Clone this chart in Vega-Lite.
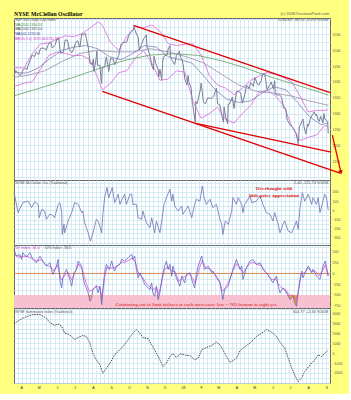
{
"$schema": "https://vega.github.io/schema/vega-lite/v6.json",
"background": "#ffff80",
"padding": {"left": 11, "top": 10, "right": 5, "bottom": 5},
"spacing": 0,
"bounds": "flush",
"config": {
  "view": {"stroke": "#666", "strokeWidth": 1, "fill": "#ffffff"},
  "axis": {"domain": false, "ticks": false, "gridColor": "#cbe6f0", "gridWidth": 0.8, "labelFont": "Liberation Sans", "labelFontSize": 3.5, "labelColor": "#555", "labelPadding": 2, "title": null},
  "text": {"font": "Liberation Sans", "fontSize": 3.5, "baseline": "middle"}
},
"datasets": {
  "price": [
{"d":78,"p":1420},{"d":81,"p":1437},{"d":85,"p":1428},{"d":88,"p":1421},{"d":91,"p":1424},{"d":93,"p":1437},{"d":98,"p":1444},{"d":100,"p":1439},{"d":102,"p":1452},{"d":106,"p":1471},{"d":109,"p":1485},{"d":113,"p":1480},{"d":116,"p":1495},{"d":120,"p":1486},{"d":123,"p":1506},{"d":127,"p":1507},{"d":130,"p":1505},{"d":133,"p":1501},{"d":137,"p":1522},{"d":141,"p":1524},{"d":143,"p":1507},{"d":148,"p":1518},{"d":151,"p":1536},{"d":154,"p":1539},{"d":157,"p":1491},{"d":162,"p":1494},{"d":165,"p":1533},{"d":169,"p":1531},{"d":172,"p":1503},{"d":176,"p":1492},{"d":179,"p":1503},{"d":183,"p":1525},{"d":186,"p":1530},{"d":190,"p":1510},{"d":193,"p":1552},{"d":196,"p":1549},{"d":199,"p":1554},{"d":204,"p":1511},{"d":206,"p":1483},{"d":207,"p":1459},{"d":211,"p":1455},{"d":213,"p":1472},{"d":214,"p":1433},{"d":217,"p":1467},{"d":219,"p":1497},{"d":220,"p":1453},{"d":224,"p":1452},{"d":226,"p":1406},{"d":227,"p":1395},{"d":228,"p":1445},{"d":232,"p":1447},{"d":235,"p":1479},{"d":239,"p":1433},{"d":242,"p":1474},{"d":247,"p":1472},{"d":249,"p":1454},{"d":253,"p":1471},{"d":256,"p":1484},{"d":260,"p":1519},{"d":263,"p":1525},{"d":268,"p":1525},{"d":270,"p":1527},{"d":273,"p":1547},{"d":277,"p":1557},{"d":281,"p":1565},{"d":282,"p":1575},{"d":284,"p":1561},{"d":287,"p":1548},{"d":289,"p":1541},{"d":291,"p":1501},{"d":295,"p":1519},{"d":298,"p":1536},{"d":303,"p":1549},{"d":304,"p":1508},{"d":305,"p":1509},{"d":310,"p":1475},{"d":312,"p":1453},{"d":315,"p":1439},{"d":316,"p":1481},{"d":319,"p":1458},{"d":323,"p":1439},{"d":324,"p":1416},{"d":326,"p":1440},{"d":329,"p":1407},{"d":331,"p":1469},{"d":333,"p":1481},{"d":338,"p":1486},{"d":340,"p":1504},{"d":343,"p":1515},{"d":344,"p":1478},{"d":347,"p":1467},{"d":351,"p":1455},{"d":354,"p":1484},{"d":359,"p":1497},{"d":361,"p":1478},{"d":364,"p":1468},{"d":366,"p":1447},{"d":368,"p":1411},{"d":372,"p":1390},{"d":374,"p":1420},{"d":375,"p":1401},{"d":379,"p":1381},{"d":381,"p":1333},{"d":382,"p":1325},{"d":386,"p":1272},{"d":387,"p":1338},{"d":389,"p":1331},{"d":392,"p":1353},{"d":395,"p":1379},{"d":396,"p":1396},{"d":400,"p":1337},{"d":403,"p":1331},{"d":407,"p":1349},{"d":410,"p":1349},{"d":414,"p":1348},{"d":417,"p":1353},{"d":422,"p":1380},{"d":424,"p":1331},{"d":428,"p":1327},{"d":431,"p":1294},{"d":434,"p":1273},{"d":435,"p":1320},{"d":438,"p":1288},{"d":441,"p":1268},{"d":442,"p":1330},{"d":444,"p":1330},{"d":449,"p":1352},{"d":452,"p":1316},{"d":456,"p":1370},{"d":459,"p":1370},{"d":463,"p":1366},{"d":466,"p":1333},{"d":471,"p":1365},{"d":473,"p":1390},{"d":478,"p":1379},{"d":480,"p":1398},{"d":485,"p":1386},{"d":487,"p":1414},{"d":492,"p":1393},{"d":494,"p":1389},{"d":498,"p":1404},{"d":501,"p":1426},{"d":504,"p":1426},{"d":507,"p":1391},{"d":508,"p":1376},{"d":513,"p":1391},{"d":515,"p":1400},{"d":519,"p":1377},{"d":521,"p":1404},{"d":522,"p":1361},{"d":526,"p":1358},{"d":529,"p":1360},{"d":533,"p":1350},{"d":536,"p":1318},{"d":540,"p":1315},{"d":542,"p":1283},{"d":543,"p":1278},{"d":548,"p":1261},{"d":549,"p":1262},{"d":553,"p":1253},{"d":555,"p":1245},{"d":557,"p":1240},{"d":561,"p":1205},{"d":563,"p":1260},{"d":564,"p":1261},{"d":569,"p":1283},{"d":571,"p":1257},{"d":574,"p":1235},{"d":577,"p":1267},{"d":578,"p":1260},{"d":582,"p":1285},{"d":585,"p":1296},{"d":588,"p":1305},{"d":591,"p":1293},{"d":592,"p":1298},{"d":595,"p":1279},{"d":597,"p":1275},{"d":599,"p":1292},{"d":603,"p":1271},{"d":605,"p":1300},{"d":606,"p":1283},{"d":610,"p":1277},{"d":611,"p":1275},{"d":612,"p":1237}
  ],
  "ma": [
{"s":"MA200","d":78,"v":1356},{"s":"MA200","d":130,"v":1385},{"s":"MA200","d":180,"v":1415},{"s":"MA200","d":230,"v":1447},{"s":"MA200","d":270,"v":1470},{"s":"MA200","d":310,"v":1485},{"s":"MA200","d":350,"v":1489},{"s":"MA200","d":390,"v":1484},{"s":"MA200","d":430,"v":1467},{"s":"MA200","d":470,"v":1445},{"s":"MA200","d":510,"v":1418},{"s":"MA200","d":550,"v":1395},{"s":"MA200","d":590,"v":1372},{"s":"MA200","d":612,"v":1358},
{"s":"MA100","d":78,"v":1415},{"s":"MA100","d":100,"v":1420},{"s":"MA100","d":130,"v":1435},{"s":"MA100","d":160,"v":1465},{"s":"MA100","d":190,"v":1490},{"s":"MA100","d":220,"v":1500},{"s":"MA100","d":250,"v":1495},{"s":"MA100","d":280,"v":1495},{"s":"MA100","d":310,"v":1505},{"s":"MA100","d":340,"v":1495},{"s":"MA100","d":370,"v":1480},{"s":"MA100","d":400,"v":1460},{"s":"MA100","d":430,"v":1425},{"s":"MA100","d":460,"v":1390},{"s":"MA100","d":490,"v":1370},{"s":"MA100","d":520,"v":1365},{"s":"MA100","d":550,"v":1355},{"s":"MA100","d":580,"v":1340},{"s":"MA100","d":612,"v":1326},
{"s":"MA50","d":78,"v":1430},{"s":"MA50","d":100,"v":1428},{"s":"MA50","d":120,"v":1445},{"s":"MA50","d":140,"v":1475},{"s":"MA50","d":160,"v":1500},{"s":"MA50","d":180,"v":1510},{"s":"MA50","d":200,"v":1515},{"s":"MA50","d":220,"v":1505},{"s":"MA50","d":240,"v":1480},{"s":"MA50","d":260,"v":1470},{"s":"MA50","d":280,"v":1490},{"s":"MA50","d":300,"v":1515},{"s":"MA50","d":320,"v":1510},{"s":"MA50","d":340,"v":1480},{"s":"MA50","d":360,"v":1470},{"s":"MA50","d":380,"v":1460},{"s":"MA50","d":400,"v":1420},{"s":"MA50","d":420,"v":1375},{"s":"MA50","d":440,"v":1345},{"s":"MA50","d":460,"v":1335},{"s":"MA50","d":480,"v":1340},{"s":"MA50","d":500,"v":1365},{"s":"MA50","d":520,"v":1385},{"s":"MA50","d":540,"v":1375},{"s":"MA50","d":560,"v":1335},{"s":"MA50","d":580,"v":1290},{"s":"MA50","d":600,"v":1265},{"s":"MA50","d":612,"v":1270}
  ],
  "bb": [
{"s":"U","d":78,"v":1445},{"s":"U","d":95,"v":1444},{"s":"U","d":109,"v":1489},{"s":"U","d":123,"v":1520},{"s":"U","d":137,"v":1523},{"s":"U","d":151,"v":1535},{"s":"U","d":165,"v":1546},{"s":"U","d":179,"v":1543},{"s":"U","d":193,"v":1552},{"s":"U","d":207,"v":1570},{"s":"U","d":221,"v":1590},{"s":"U","d":228,"v":1580},{"s":"U","d":242,"v":1525},{"s":"U","d":256,"v":1500},{"s":"U","d":270,"v":1544},{"s":"U","d":284,"v":1575},{"s":"U","d":298,"v":1571},{"s":"U","d":312,"v":1580},{"s":"U","d":326,"v":1560},{"s":"U","d":340,"v":1521},{"s":"U","d":354,"v":1515},{"s":"U","d":368,"v":1519},{"s":"U","d":382,"v":1520},{"s":"U","d":396,"v":1485},{"s":"U","d":410,"v":1420},{"s":"U","d":424,"v":1390},{"s":"U","d":438,"v":1380},{"s":"U","d":452,"v":1360},{"s":"U","d":466,"v":1380},{"s":"U","d":480,"v":1405},{"s":"U","d":494,"v":1418},{"s":"U","d":508,"v":1430},{"s":"U","d":522,"v":1424},{"s":"U","d":536,"v":1414},{"s":"U","d":550,"v":1400},{"s":"U","d":564,"v":1355},{"s":"U","d":578,"v":1305},{"s":"U","d":592,"v":1310},{"s":"U","d":606,"v":1310},{"s":"U","d":612,"v":1312},
{"s":"L","d":78,"v":1385},{"s":"L","d":95,"v":1396},{"s":"L","d":109,"v":1401},{"s":"L","d":123,"v":1440},{"s":"L","d":137,"v":1483},{"s":"L","d":151,"v":1495},{"s":"L","d":165,"v":1490},{"s":"L","d":179,"v":1483},{"s":"L","d":193,"v":1484},{"s":"L","d":207,"v":1470},{"s":"L","d":221,"v":1410},{"s":"L","d":228,"v":1375},{"s":"L","d":242,"v":1395},{"s":"L","d":256,"v":1429},{"s":"L","d":270,"v":1436},{"s":"L","d":284,"v":1475},{"s":"L","d":298,"v":1499},{"s":"L","d":312,"v":1460},{"s":"L","d":326,"v":1405},{"s":"L","d":340,"v":1409},{"s":"L","d":354,"v":1435},{"s":"L","d":368,"v":1431},{"s":"L","d":382,"v":1340},{"s":"L","d":396,"v":1285},{"s":"L","d":410,"v":1300},{"s":"L","d":424,"v":1320},{"s":"L","d":438,"v":1280},{"s":"L","d":452,"v":1270},{"s":"L","d":466,"v":1300},{"s":"L","d":480,"v":1325},{"s":"L","d":494,"v":1366},{"s":"L","d":508,"v":1374},{"s":"L","d":522,"v":1356},{"s":"L","d":536,"v":1326},{"s":"L","d":550,"v":1260},{"s":"L","d":564,"v":1215},{"s":"L","d":578,"v":1225},{"s":"L","d":592,"v":1232},{"s":"L","d":606,"v":1262},{"s":"L","d":612,"v":1259}
  ],
  "trend": [
{"s":"upper","d":281,"v":1579},{"s":"upper","d":615,"v":1366},
{"s":"lowA","d":228,"v":1370},{"s":"lowA","d":632,"v":1112},
{"s":"lowB","d":387,"v":1269},{"s":"lowB","d":617,"v":1178},
{"s":"arrow","d":619,"v":1232},{"s":"arrow","d":633,"v":1118}
  ],
  "osc": [
{"d":78,"v":193},{"d":85,"v":-25},{"d":93,"v":84},{"d":102,"v":100},{"d":108,"v":30},{"d":113,"v":91},{"d":119,"v":65},{"d":121,"v":-80},{"d":125,"v":10},{"d":130,"v":-5},{"d":133,"v":-98},{"d":139,"v":-40},{"d":144,"v":-55},{"d":147,"v":-80},{"d":153,"v":65},{"d":156,"v":84},{"d":159,"v":-20},{"d":160,"v":-262},{"d":163,"v":-153},{"d":164,"v":-244},{"d":170,"v":-116},{"d":176,"v":-25},{"d":181,"v":84},{"d":187,"v":65},{"d":193,"v":-25},{"d":195,"v":-7},{"d":198,"v":-135},{"d":204,"v":-244},{"d":208,"v":-335},{"d":213,"v":-225},{"d":218,"v":-98},{"d":221,"v":-116},{"d":227,"v":-244},{"d":229,"v":-44},{"d":232,"v":138},{"d":236,"v":247},{"d":239,"v":138},{"d":245,"v":247},{"d":249,"v":84},{"d":255,"v":175},{"d":258,"v":65},{"d":263,"v":138},{"d":266,"v":175},{"d":269,"v":65},{"d":275,"v":175},{"d":278,"v":175},{"d":280,"v":65},{"d":286,"v":65},{"d":289,"v":-80},{"d":295,"v":-98},{"d":297,"v":-7},{"d":303,"v":-135},{"d":309,"v":-189},{"d":312,"v":-80},{"d":317,"v":-244},{"d":320,"v":-116},{"d":326,"v":-244},{"d":329,"v":-116},{"d":333,"v":65},{"d":337,"v":138},{"d":343,"v":229},{"d":346,"v":100},{"d":348,"v":175},{"d":351,"v":47},{"d":357,"v":-7},{"d":363,"v":47},{"d":365,"v":-44},{"d":374,"v":47},{"d":380,"v":-80},{"d":385,"v":65},{"d":388,"v":120},{"d":394,"v":100},{"d":398,"v":265},{"d":401,"v":138},{"d":405,"v":65},{"d":411,"v":120},{"d":416,"v":29},{"d":422,"v":65},{"d":428,"v":-98},{"d":431,"v":-153},{"d":433,"v":-262},{"d":437,"v":-116},{"d":442,"v":-153},{"d":448,"v":-7},{"d":450,"v":138},{"d":456,"v":65},{"d":459,"v":138},{"d":465,"v":65},{"d":467,"v":-25},{"d":470,"v":65},{"d":479,"v":156},{"d":482,"v":84},{"d":490,"v":100},{"d":496,"v":156},{"d":501,"v":65},{"d":507,"v":-25},{"d":513,"v":-44},{"d":518,"v":-116},{"d":521,"v":-25},{"d":527,"v":-153},{"d":530,"v":-244},{"d":535,"v":-153},{"d":538,"v":-116},{"d":544,"v":-225},{"d":550,"v":-244},{"d":556,"v":-153},{"d":558,"v":-116},{"d":561,"v":-207},{"d":564,"v":29},{"d":568,"v":193},{"d":572,"v":100},{"d":578,"v":175},{"d":584,"v":65},{"d":586,"v":138},{"d":592,"v":65},{"d":595,"v":138},{"d":598,"v":-25},{"d":606,"v":175},{"d":609,"v":138},{"d":612,"v":2}
  ],
  "pct10": [
{"d":78,"v":562},{"d":82,"v":406},{"d":88,"v":440},{"d":91,"v":328},{"d":93,"v":484},{"d":99,"v":380},{"d":105,"v":484},{"d":110,"v":330},{"d":116,"v":250},{"d":122,"v":400},{"d":127,"v":290},{"d":133,"v":172},{"d":139,"v":250},{"d":144,"v":-23},{"d":150,"v":172},{"d":153,"v":328},{"d":156,"v":-140},{"d":159,"v":-335},{"d":161,"v":-100},{"d":167,"v":94},{"d":173,"v":-140},{"d":176,"v":-296},{"d":180,"v":16},{"d":184,"v":94},{"d":187,"v":289},{"d":193,"v":172},{"d":195,"v":-62},{"d":198,"v":-257},{"d":201,"v":-335},{"d":204,"v":-452},{"d":207,"v":-647},{"d":210,"v":-570},{"d":212,"v":-374},{"d":218,"v":-296},{"d":221,"v":-452},{"d":224,"v":-296},{"d":227,"v":-725},{"d":229,"v":-374},{"d":232,"v":16},{"d":235,"v":211},{"d":240,"v":94},{"d":244,"v":289},{"d":246,"v":172},{"d":249,"v":55},{"d":252,"v":172},{"d":258,"v":211},{"d":261,"v":328},{"d":266,"v":289},{"d":272,"v":367},{"d":278,"v":445},{"d":280,"v":328},{"d":283,"v":406},{"d":286,"v":94},{"d":289,"v":-101},{"d":292,"v":16},{"d":297,"v":-140},{"d":300,"v":-257},{"d":303,"v":-296},{"d":309,"v":-374},{"d":312,"v":-218},{"d":314,"v":-452},{"d":317,"v":-530},{"d":320,"v":-296},{"d":323,"v":-608},{"d":326,"v":-452},{"d":330,"v":-62},{"d":334,"v":172},{"d":337,"v":289},{"d":340,"v":94},{"d":343,"v":211},{"d":346,"v":-62},{"d":348,"v":172},{"d":351,"v":16},{"d":354,"v":-101},{"d":360,"v":-296},{"d":363,"v":-62},{"d":368,"v":-218},{"d":371,"v":-23},{"d":377,"v":16},{"d":380,"v":-140},{"d":385,"v":-335},{"d":388,"v":-23},{"d":391,"v":172},{"d":397,"v":406},{"d":399,"v":250},{"d":402,"v":94},{"d":408,"v":172},{"d":414,"v":16},{"d":416,"v":55},{"d":422,"v":-101},{"d":428,"v":-218},{"d":431,"v":-452},{"d":433,"v":-608},{"d":436,"v":-374},{"d":442,"v":-296},{"d":445,"v":-140},{"d":450,"v":94},{"d":456,"v":328},{"d":462,"v":94},{"d":465,"v":172},{"d":467,"v":-140},{"d":473,"v":133},{"d":479,"v":289},{"d":484,"v":328},{"d":490,"v":211},{"d":496,"v":250},{"d":501,"v":94},{"d":507,"v":16},{"d":513,"v":-101},{"d":518,"v":-218},{"d":524,"v":-62},{"d":527,"v":-296},{"d":530,"v":-452},{"d":535,"v":-335},{"d":538,"v":-374},{"d":544,"v":-530},{"d":547,"v":-608},{"d":552,"v":-530},{"d":555,"v":-686},{"d":558,"v":-764},{"d":561,"v":-452},{"d":564,"v":-140},{"d":567,"v":55},{"d":569,"v":-101},{"d":575,"v":94},{"d":578,"v":172},{"d":584,"v":16},{"d":586,"v":94},{"d":592,"v":-62},{"d":598,"v":-140},{"d":603,"v":172},{"d":607,"v":289},{"d":612,"v":-58}
  ],
  "pct5": [
{"d":78,"v":450},{"d":85,"v":380},{"d":92,"v":400},{"d":100,"v":400},{"d":108,"v":350},{"d":116,"v":290},{"d":124,"v":320},{"d":132,"v":200},{"d":140,"v":150},{"d":146,"v":60},{"d":152,"v":200},{"d":158,"v":-150},{"d":164,"v":-60},{"d":170,"v":30},{"d":176,"v":-150},{"d":182,"v":40},{"d":188,"v":220},{"d":194,"v":100},{"d":200,"v":-200},{"d":206,"v":-420},{"d":212,"v":-380},{"d":218,"v":-280},{"d":224,"v":-350},{"d":228,"v":-560},{"d":232,"v":-100},{"d":236,"v":150},{"d":242,"v":120},{"d":248,"v":140},{"d":254,"v":170},{"d":260,"v":260},{"d":266,"v":260},{"d":272,"v":300},{"d":278,"v":350},{"d":284,"v":280},{"d":290,"v":-20},{"d":296,"v":-80},{"d":302,"v":-220},{"d":308,"v":-300},{"d":314,"v":-380},{"d":320,"v":-330},{"d":324,"v":-480},{"d":328,"v":-250},{"d":334,"v":100},{"d":340,"v":150},{"d":346,"v":50},{"d":352,"v":40},{"d":358,"v":-180},{"d":364,"v":-100},{"d":370,"v":-60},{"d":376,"v":0},{"d":382,"v":-120},{"d":386,"v":-230},{"d":392,"v":80},{"d":398,"v":300},{"d":404,"v":130},{"d":410,"v":110},{"d":416,"v":40},{"d":422,"v":-60},{"d":428,"v":-200},{"d":432,"v":-420},{"d":438,"v":-320},{"d":444,"v":-160},{"d":450,"v":60},{"d":456,"v":230},{"d":462,"v":120},{"d":468,"v":20},{"d":474,"v":150},{"d":480,"v":250},{"d":486,"v":250},{"d":492,"v":200},{"d":498,"v":190},{"d":504,"v":60},{"d":510,"v":-40},{"d":516,"v":-150},{"d":522,"v":-120},{"d":528,"v":-260},{"d":534,"v":-350},{"d":540,"v":-380},{"d":546,"v":-520},{"d":552,"v":-500},{"d":558,"v":-620},{"d":562,"v":-350},{"d":566,"v":-20},{"d":572,"v":20},{"d":578,"v":120},{"d":584,"v":50},{"d":590,"v":60},{"d":596,"v":-60},{"d":602,"v":60},{"d":607,"v":200},{"d":612,"v":-61}
  ],
  "oversold": [
{"g":1,"d":205,"v":-500},{"g":1,"d":207,"v":-647},{"g":1,"d":209,"v":-500},
{"g":2,"d":225,"v":-500},{"g":2,"d":227,"v":-725},{"g":2,"d":228.5,"v":-500},
{"g":3,"d":321,"v":-500},{"g":3,"d":323,"v":-608},{"g":3,"d":325,"v":-500},
{"g":4,"d":543,"v":-500},{"g":4,"d":544,"v":-530},{"g":4,"d":547,"v":-608},{"g":4,"d":552,"v":-530},{"g":4,"d":555,"v":-686},{"g":4,"d":558,"v":-764},{"g":4,"d":560,"v":-500}
  ],
  "summ": [
{"d":78,"v":3000},{"d":93,"v":3570},{"d":110,"v":3920},{"d":122,"v":3920},{"d":133,"v":3570},{"d":139,"v":3100},{"d":147,"v":2830},{"d":153,"v":2960},{"d":159,"v":2730},{"d":164,"v":2040},{"d":170,"v":1950},{"d":176,"v":1700},{"d":181,"v":1370},{"d":187,"v":1600},{"d":195,"v":1800},{"d":201,"v":1700},{"d":207,"v":1020},{"d":212,"v":0},{"d":218,"v":-680},{"d":224,"v":-1190},{"d":229,"v":-2040},{"d":235,"v":-1530},{"d":241,"v":-1020},{"d":249,"v":-170},{"d":255,"v":170},{"d":263,"v":680},{"d":272,"v":1370},{"d":280,"v":2040},{"d":286,"v":2390},{"d":292,"v":2040},{"d":297,"v":1600},{"d":306,"v":1470},{"d":312,"v":860},{"d":320,"v":0},{"d":326,"v":-680},{"d":331,"v":-1360},{"d":337,"v":-1020},{"d":343,"v":-340},{"d":348,"v":-30},{"d":354,"v":-440},{"d":360,"v":-70},{"d":365,"v":-100},{"d":371,"v":-240},{"d":377,"v":-240},{"d":385,"v":-680},{"d":391,"v":-500},{"d":397,"v":340},{"d":405,"v":580},{"d":414,"v":790},{"d":422,"v":1120},{"d":428,"v":860},{"d":433,"v":340},{"d":439,"v":-340},{"d":445,"v":-920},{"d":450,"v":-780},{"d":456,"v":-510},{"d":462,"v":240},{"d":467,"v":510},{"d":479,"v":1020},{"d":490,"v":1700},{"d":499,"v":2040},{"d":507,"v":2390},{"d":513,"v":2220},{"d":518,"v":2040},{"d":524,"v":1700},{"d":530,"v":1120},{"d":538,"v":510},{"d":544,"v":-510},{"d":550,"v":-1530},{"d":555,"v":-2210},{"d":561,"v":-2890},{"d":567,"v":-2480},{"d":572,"v":-1870},{"d":581,"v":-1190},{"d":589,"v":-680},{"d":595,"v":-170},{"d":601,"v":-340},{"d":606,"v":0},{"d":612,"v":305}
  ]
},
"vconcat": [
{
  "width": 316, "height": 162,
  "resolve": {"axis": {"x": "independent", "y": "independent"}},
  "layer": [
    {"data": {"name": "bb"}, "mark": {"type": "line", "color": "#dd66dd", "strokeWidth": 0.8},
     "encoding": {
       "x": {"field": "d", "type": "quantitative", "scale": {"domain": [78, 615], "nice": false, "zero": false},
             "axis": {"orient": "top", "labels": false, "grid": true, "maxExtent": 0, "values": [84,91,98,105,112,119,126,133,140,147,154,161,168,175,182,189,196,203,210,217,224,231,238,245,252,259,266,273,280,287,294,301,308,315,322,329,336,343,350,357,364,371,378,385,392,399,406,413,420,427,434,441,448,455,462,469,476,483,490,497,504,511,518,525,532,539,546,553,560,567,574,581,588,595,602,609]}},
       "y": {"field": "v", "type": "quantitative", "scale": {"domain": [1090, 1602], "nice": false, "zero": false},
             "axis": {"orient": "left", "labels": false, "grid": true, "maxExtent": 0, "values": [1100,1125,1150,1175,1200,1225,1250,1275,1300,1325,1350,1375,1400,1425,1450,1475,1500,1525,1550,1575,1600]}},
       "detail": {"field": "s"}
     }},
    {"data": {"name": "ma"}, "mark": {"type": "line", "strokeWidth": 0.8},
     "encoding": {
       "x": {"field": "d", "type": "quantitative", "axis": null},
       "y": {"field": "v", "type": "quantitative", "axis": null},
       "color": {"field": "s", "type": "nominal", "legend": null, "scale": {"domain": ["MA200", "MA100", "MA50"], "range": ["#5fa05f", "#9c8aaa", "#8080b4"]}}
     }},
    {"data": {"name": "price"}, "mark": {"type": "line", "color": "#7a7d98", "strokeWidth": 1},
     "encoding": {
       "x": {"field": "d", "type": "quantitative", "axis": null},
       "y": {"field": "p", "type": "quantitative", "axis": {"orient": "right", "grid": false, "format": "d", "values": [1150,1200,1250,1300,1350,1400,1450,1500,1550]}}
     }},
    {"data": {"name": "trend"}, "mark": {"type": "line", "color": "#e00000", "strokeWidth": 1.3},
     "encoding": {
       "x": {"field": "d", "type": "quantitative", "axis": null},
       "y": {"field": "v", "type": "quantitative", "axis": null},
       "detail": {"field": "s"}
     }},
    {"data": {"values": [{}]}, "mark": {"type": "point", "shape": "triangle-down", "filled": true, "color": "#e00000", "size": 22, "opacity": 1, "angle": 346},
     "encoding": {"x": {"datum": 633.5, "type": "quantitative", "axis": null}, "y": {"datum": 1114, "type": "quantitative", "axis": null}}},
    {"data": {"values": [{}]}, "mark": {"type": "text", "text": "NYSE McClellan Oscillator", "align": "left", "color": "#000", "font": "Liberation Serif", "fontWeight": "bold", "fontSize": 5.8},
     "encoding": {"x": {"datum": 78, "type": "quantitative", "axis": null}, "y": {"datum": 1614.5, "type": "quantitative", "axis": null}}},
    {"data": {"values": [{}]}, "mark": {"type": "text", "text": "(c) 2008 DecisionPoint.com", "align": "right", "color": "#555", "fontSize": 4},
     "encoding": {"x": {"datum": 614, "type": "quantitative", "axis": null}, "y": {"datum": 1614.5, "type": "quantitative", "axis": null}}},
    {"data": {"values": [{}]}, "mark": {"type": "text", "text": "S&P 500 Large Cap Index", "align": "left", "color": "#555"},
     "encoding": {"x": {"datum": 80, "type": "quantitative", "axis": null}, "y": {"datum": 1595, "type": "quantitative", "axis": null}}},
    {"data": {"values": [{}]}, "mark": {"type": "text", "text": "MA(200) 1356.53", "align": "left", "color": "#3c8a3c"},
     "encoding": {"x": {"datum": 80, "type": "quantitative", "axis": null}, "y": {"datum": 1581, "type": "quantitative", "axis": null}}},
    {"data": {"values": [{}]}, "mark": {"type": "text", "text": "MA(100) 1325.54", "align": "left", "color": "#444"},
     "encoding": {"x": {"datum": 80, "type": "quantitative", "axis": null}, "y": {"datum": 1566, "type": "quantitative", "axis": null}}},
    {"data": {"values": [{}]}, "mark": {"type": "text", "text": "MA(50) 1270.50", "align": "left", "color": "#333399"},
     "encoding": {"x": {"datum": 80, "type": "quantitative", "axis": null}, "y": {"datum": 1551, "type": "quantitative", "axis": null}}},
    {"data": {"values": [{}]}, "mark": {"type": "text", "text": "BB(20,2.0) 1259.34/1311.56", "align": "left", "color": "#cc33cc"},
     "encoding": {"x": {"datum": 80, "type": "quantitative", "axis": null}, "y": {"datum": 1537, "type": "quantitative", "axis": null}}},
    {"data": {"values": [{}]}, "mark": {"type": "text", "text": "1236.83  -38.15  -3.0%  9/4/08", "align": "right", "color": "#555", "fontSize": 4},
     "encoding": {"x": {"datum": 612, "type": "quantitative", "axis": null}, "y": {"datum": 1595, "type": "quantitative", "axis": null}}}
  ]
},
{
  "width": 316, "height": 65,
  "resolve": {"axis": {"x": "independent", "y": "independent"}},
  "layer": [
    {"data": {"name": "osc"}, "mark": {"type": "line", "color": "#7070b4", "strokeWidth": 0.8},
     "encoding": {
       "x": {"field": "d", "type": "quantitative", "scale": {"domain": [78, 615], "nice": false, "zero": false},
             "axis": {"orient": "top", "labels": false, "grid": true, "maxExtent": 0, "values": [84,91,98,105,112,119,126,133,140,147,154,161,168,175,182,189,196,203,210,217,224,231,238,245,252,259,266,273,280,287,294,301,308,315,322,329,336,343,350,357,364,371,378,385,392,399,406,413,420,427,434,441,448,455,462,469,476,483,490,497,504,511,518,525,532,539,546,553,560,567,574,581,588,595,602,609]}},
       "y": {"field": "v", "type": "quantitative", "scale": {"domain": [-377, 330], "nice": false, "zero": false},
             "axis": {"orient": "left", "labels": false, "grid": true, "maxExtent": 0, "values": [-350,-300,-250,-200,-150,-100,-50,0,50,100,150,200,250,300]}}
     }},
    {"data": {"values": [{}]}, "mark": {"type": "text", "text": "NYSE McClellan Osc (Traditional)", "align": "left", "color": "#555"},
     "encoding": {"x": {"datum": 80, "type": "quantitative", "axis": null},
       "y": {"datum": 294, "type": "quantitative", "axis": {"orient": "right", "grid": false, "format": "d", "values": [-300,-200,-100,0,100,200]}}}},
    {"data": {"values": [{}]}, "mark": {"type": "text", "text": "2.40  -115.74  9/4/08", "align": "right", "color": "#555", "fontSize": 4},
     "encoding": {"x": {"datum": 612, "type": "quantitative", "axis": null}, "y": {"datum": 294, "type": "quantitative", "axis": null}}},
    {"data": {"values": [{}]}, "mark": {"type": "text", "text": "Overbought with", "align": "center", "color": "#dd1111", "font": "Liberation Serif", "fontWeight": "bold", "fontSize": 5},
     "encoding": {"x": {"datum": 520, "type": "quantitative", "axis": null}, "y": {"datum": 240, "type": "quantitative", "axis": null}}},
    {"data": {"values": [{}]}, "mark": {"type": "text", "text": "little price appreciation", "align": "center", "color": "#dd1111", "font": "Liberation Serif", "fontWeight": "bold", "fontSize": 5},
     "encoding": {"x": {"datum": 520, "type": "quantitative", "axis": null}, "y": {"datum": 167, "type": "quantitative", "axis": null}}}
  ]
},
{
  "width": 316, "height": 63,
  "resolve": {"axis": {"x": "independent", "y": "independent"}},
  "layer": [
    {"data": {"values": [{}]}, "mark": {"type": "rect", "color": "#f8c0d0"},
     "encoding": {"x": {"datum": 78, "type": "quantitative", "axis": null}, "x2": {"datum": 615}, "y": {"datum": -500, "type": "quantitative", "axis": null}, "y2": {"datum": -805}}},
    {"data": {"values": [{}]}, "mark": {"type": "rule", "color": "#d08850", "strokeWidth": 1},
     "encoding": {"y": {"datum": 0, "type": "quantitative", "axis": null}}},
    {"data": {"name": "oversold"}, "mark": {"type": "area", "color": "#f0a020"},
     "encoding": {
       "x": {"field": "d", "type": "quantitative", "axis": null},
       "y": {"field": "v", "type": "quantitative", "axis": null},
       "y2": {"datum": -500},
       "detail": {"field": "g"}
     }},
    {"data": {"name": "pct5"}, "mark": {"type": "line", "color": "#dd55dd", "strokeWidth": 0.8},
     "encoding": {
       "x": {"field": "d", "type": "quantitative", "axis": null},
       "y": {"field": "v", "type": "quantitative", "axis": {"orient": "right", "grid": false, "format": "d", "values": [-750,-500,-250,0,250,500]}}
     }},
    {"data": {"name": "pct10"}, "mark": {"type": "line", "color": "#6464c0", "strokeWidth": 0.8},
     "encoding": {
       "x": {"field": "d", "type": "quantitative", "scale": {"domain": [78, 615], "nice": false, "zero": false},
             "axis": {"orient": "top", "labels": false, "grid": true, "maxExtent": 0, "values": [84,91,98,105,112,119,126,133,140,147,154,161,168,175,182,189,196,203,210,217,224,231,238,245,252,259,266,273,280,287,294,301,308,315,322,329,336,343,350,357,364,371,378,385,392,399,406,413,420,427,434,441,448,455,462,469,476,483,490,497,504,511,518,525,532,539,546,553,560,567,574,581,588,595,602,609]}},
       "y": {"field": "v", "type": "quantitative", "scale": {"domain": [-805, 663], "nice": false, "zero": false},
             "axis": {"orient": "left", "labels": false, "grid": true, "maxExtent": 0, "values": [-750,-625,-500,-375,-250,-125,0,125,250,375,500,625]}}
     }},
    {"data": {"values": [{}]}, "mark": {"type": "text", "text": "5% Index: -61.4", "align": "left", "color": "#cc33cc"},
     "encoding": {"x": {"datum": 80, "type": "quantitative", "axis": null}, "y": {"datum": 592, "type": "quantitative", "axis": null}}},
    {"data": {"values": [{}]}, "mark": {"type": "text", "text": "10% Index: -58.0", "align": "left", "color": "#555"},
     "encoding": {"x": {"datum": 130, "type": "quantitative", "axis": null}, "y": {"datum": 592, "type": "quantitative", "axis": null}}},
    {"data": {"values": [{}]}, "mark": {"type": "text", "text": "Continuing out of limit failures at each successive low -- NO bottom in sight yet.", "align": "center", "color": "#dd1111", "font": "Liberation Serif", "fontSize": 5},
     "encoding": {"x": {"datum": 388, "type": "quantitative", "axis": null}, "y": {"datum": -711, "type": "quantitative", "axis": null}}}
  ]
},
{
  "width": 316, "height": 75,
  "resolve": {"axis": {"x": "independent", "y": "independent"}},
  "layer": [
    {"data": {"name": "summ"}, "mark": {"type": "line", "color": "#222", "strokeWidth": 0.8, "strokeDash": [1.5, 1]},
     "encoding": {
       "x": {"field": "d", "type": "quantitative", "scale": {"domain": [78, 615], "nice": false, "zero": false},
             "axis": {"orient": "top", "labels": false, "grid": true, "maxExtent": 0, "values": [84,91,98,105,112,119,126,133,140,147,154,161,168,175,182,189,196,203,210,217,224,231,238,245,252,259,266,273,280,287,294,301,308,315,322,329,336,343,350,357,364,371,378,385,392,399,406,413,420,427,434,441,448,455,462,469,476,483,490,497,504,511,518,525,532,539,546,553,560,567,574,581,588,595,602,609]}},
       "y": {"field": "v", "type": "quantitative", "scale": {"domain": [-3030, 4590], "nice": false, "zero": false},
             "axis": {"orient": "left", "labels": false, "grid": true, "maxExtent": 0, "values": [-3000,-2500,-2000,-1500,-1000,-500,0,500,1000,1500,2000,2500,3000,3500,4000,4500]}}
     }},
    {"data": {"values": [{}]}, "mark": {"type": "text", "text": "NYSE Summation Index (Traditional)", "align": "left", "color": "#555"},
     "encoding": {
       "x": {"datum": 80, "type": "quantitative",
             "axis": {"orient": "bottom", "grid": false, "values": [90,120,151,181,212,243,273,304,334,365,396,425,456,486,517,547,578,609], "labelExpr": "datum.value == 365 ? '08' : slice(timeFormat(datetime(2007, 0, 1 + datum.value), '%b'), 0, 1)", "labelColor": "#333"}},
       "y": {"datum": 4153, "type": "quantitative", "axis": {"orient": "right", "grid": false, "format": "d", "values": [-2000,-1000,0,1000,2000,3000,4000]}}}},
    {"data": {"values": [{}]}, "mark": {"type": "text", "text": "304.77  +2.40  9/4/08", "align": "right", "color": "#555", "fontSize": 4},
     "encoding": {"x": {"datum": 612, "type": "quantitative", "axis": null}, "y": {"datum": 4153, "type": "quantitative", "axis": null}}}
  ]
}
]
}
